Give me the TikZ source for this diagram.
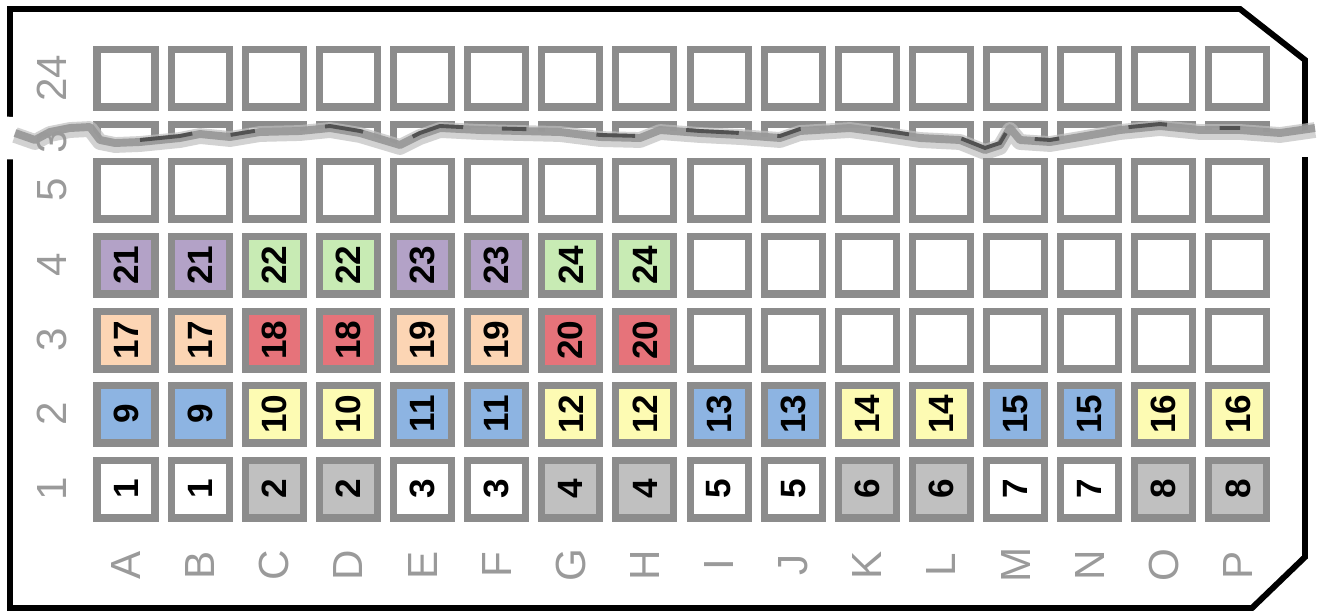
\documentclass[tikz,border=0pt]{standalone}
\usepackage{fontspec}
\setmainfont{Liberation Sans}
\usetikzlibrary{positioning}

\definecolor{plWell}{HTML}{8C8C8C}
\definecolor{plLabel}{HTML}{9A9A9A}
\definecolor{plGray}{HTML}{C0C0C0}
\definecolor{plBlue}{HTML}{8DB4E2}
\definecolor{plYellow}{HTML}{FDFBB3}
\definecolor{plPeach}{HTML}{FCD5B4}
\definecolor{plRed}{HTML}{E6737A}
\definecolor{plGreen}{HTML}{C8EBB4}
\definecolor{plPurple}{HTML}{B3A2C7}
\tikzset{
  well/.style={
    draw=plWell, line width=4pt, fill=white, minimum size=1.16cm,
    inner sep=0pt, rotate=90, font=\fontsize{20}{20}\selectfont\bfseries
  },
  axislabel/.style={text=plLabel, rotate=90, inner sep=0pt, font=\fontsize{24}{24}\selectfont},
  plate/.style={line width=3.4pt, line join=miter},
  tearfill/.style={fill=white, draw=none},
  tearsoft/.style={line width=9pt, black!25, opacity=.7, line join=round},
  tearedge/.style={line width=4.5pt, plWell!90, opacity=.9, line join=round},
  teardark/.style={line width=2.2pt, black!68, dash pattern=on 30pt off 22pt on 14pt off 40pt on 22pt off 30pt}
}

\begin{document}
\begin{tikzpicture}[x=0.02cm, y=-0.02cm]
  \useasboundingbox (0,0) rectangle (1320,610);

  % plate outline
  \draw[plate] (10,9) -- (1240,9) -- (1305,60) -- (1305,557) -- (1252,608) -- (10,608) -- cycle;

  % column labels
  \foreach \lab [count=\i from 0] in {A,B,C,D,E,F,G,H,I,J,K,L,M,N,O,P}
    \node[axislabel] (col-\lab) at (126+74.13*\i,565) {\lab};

  % row labels
  \foreach \lab/\y in {1/489, 2/414, 3/340, 4/265, 5/190, 24/78}
    \node[axislabel] (row-\lab) at (52,\y) {\lab};

  % empty row 24, and what is left of row 23
  \foreach \i in {0,...,15}
    \node[well] (w-24-\i) at (126+74.13*\i,78) {};
  \begin{scope}
    \clip (0,112) rectangle (1320,146);
    \foreach \i in {0,...,15}
      \node[well] (w-23-\i) at (126+74.13*\i,153) {};
  \end{scope}

  % torn edge
  \fill[tearfill] (-5,116) -- (14,117) -- (15,133) -- (35,140) -- (50,132) -- (70,128) -- (90,127) -- (100,140)
    -- (115,143) -- (140,142) -- (160,140) -- (180,138) -- (200,134) -- (230,137) -- (260,132)
    -- (300,131) -- (330,128) -- (360,133) -- (400,145) -- (420,135) -- (440,128) -- (480,130)
    -- (520,131) -- (560,132) -- (600,137) -- (640,138) -- (660,130) -- (700,133) -- (740,135)
    -- (780,138) -- (800,131) -- (850,128) -- (880,132) -- (920,138) -- (960,140) -- (985,150)
    -- (1000,145) -- (1010,128) -- (1020,140) -- (1050,142) -- (1080,137) -- (1120,130)
    -- (1160,126) -- (1200,130) -- (1240,130) -- (1280,133) -- (1325,128)
    -- (1325,157) -- (1200,156) -- (1000,158) -- (700,156) -- (300,157) -- (120,162) -- (-5,159) -- cycle;
  \draw[tearsoft] (15,135) -- (35,142) -- (50,134) -- (70,130) -- (90,129) -- (100,142)
    -- (115,145) -- (140,144) -- (160,142) -- (180,140) -- (200,136) -- (230,139) -- (260,134)
    -- (300,133) -- (330,130) -- (360,135) -- (400,147) -- (420,137) -- (440,130) -- (480,132)
    -- (520,133) -- (560,134) -- (600,139) -- (640,140) -- (660,132) -- (700,135) -- (740,137)
    -- (780,140) -- (800,133) -- (850,130) -- (880,134) -- (920,140) -- (960,142) -- (985,152)
    -- (1000,147) -- (1010,130) -- (1020,142) -- (1050,144) -- (1080,139) -- (1120,132)
    -- (1160,128) -- (1200,132) -- (1240,132) -- (1280,135) -- (1315,130);
  \draw[tearedge] (15,133) -- (35,140) -- (50,132) -- (70,128) -- (90,127) -- (100,140)
    -- (115,143) -- (140,142) -- (160,140) -- (180,138) -- (200,134) -- (230,137) -- (260,132)
    -- (300,131) -- (330,128) -- (360,133) -- (400,145) -- (420,135) -- (440,128) -- (480,130)
    -- (520,131) -- (560,132) -- (600,137) -- (640,138) -- (660,130) -- (700,133) -- (740,135)
    -- (780,138) -- (800,131) -- (850,128) -- (880,132) -- (920,138) -- (960,140) -- (985,150)
    -- (1000,145) -- (1010,128) -- (1020,140) -- (1050,142) -- (1080,137) -- (1120,130)
    -- (1160,126) -- (1200,130) -- (1240,130) -- (1280,133) -- (1315,128);
  \draw[teardark] (140,140) -- (160,138) -- (180,136) -- (200,132) -- (230,135) -- (260,130)
    -- (300,129) -- (330,126) -- (360,131) -- (400,143) -- (420,133) -- (440,126) -- (480,128)
    -- (520,129) -- (560,130) -- (600,135) -- (640,136) -- (660,128) -- (700,131) -- (740,133)
    -- (780,136) -- (800,129) -- (850,126) -- (880,130) -- (920,136) -- (960,138) -- (985,148)
    -- (1000,143) -- (1010,126) -- (1020,138) -- (1050,140) -- (1080,135) -- (1120,128)
    -- (1160,124) -- (1200,128) -- (1240,128);
  \begin{scope}
    \clip (0,112) rectangle (1320,150);
    \node[axislabel] (row-23) at (52,153) {23};
  \end{scope}

  % row 5, and the empty right part of rows 3 and 4
  \foreach \i in {0,...,15}
    \node[well] (w-5-\i) at (126+74.13*\i,190) {};
  \foreach \i in {8,...,15} {
    \node[well] (w-4-\i) at (126+74.13*\i,265) {};
    \node[well] (w-3-\i) at (126+74.13*\i,340) {};
  }

  % filled wells
  \foreach \i in {0,...,15} {
    \pgfmathtruncatemacro\k{floor(\i/2)}
    \pgfmathtruncatemacro\na{\k+1}
    \pgfmathtruncatemacro\nb{\k+9}
    \ifodd\k
      \node[well, fill=plGray] (w-1-\i) at (126+74.13*\i,489) {\na};
      \node[well, fill=plYellow] (w-2-\i) at (126+74.13*\i,414) {\nb};
    \else
      \node[well] (w-1-\i) at (126+74.13*\i,489) {\na};
      \node[well, fill=plBlue] (w-2-\i) at (126+74.13*\i,414) {\nb};
    \fi
  }
  \foreach \i in {0,...,7} {
    \pgfmathtruncatemacro\k{floor(\i/2)}
    \pgfmathtruncatemacro\nc{\k+17}
    \pgfmathtruncatemacro\nd{\k+21}
    \ifodd\k
      \node[well, fill=plRed] (w-3-\i) at (126+74.13*\i,340) {\nc};
      \node[well, fill=plGreen] (w-4-\i) at (126+74.13*\i,265) {\nd};
    \else
      \node[well, fill=plPeach] (w-3-\i) at (126+74.13*\i,340) {\nc};
      \node[well, fill=plPurple] (w-4-\i) at (126+74.13*\i,265) {\nd};
    \fi
  }
\end{tikzpicture}
\end{document}
